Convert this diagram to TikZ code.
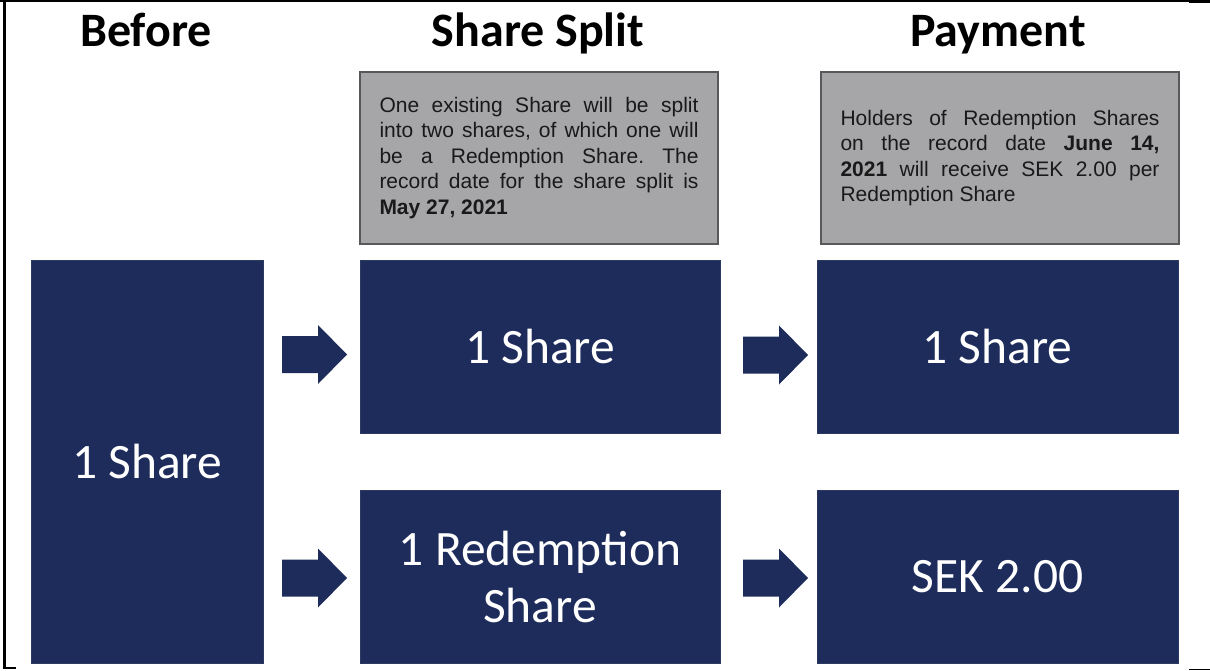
\documentclass[tikz,border=0pt]{standalone}
\usepackage{fontspec}
\setmainfont{Carlito}
\newfontfamily\arialf{Liberation Sans}
\definecolor{navy}{RGB}{29,44,91}
\definecolor{boxgray}{RGB}{166,166,169}
\definecolor{edgegray}{RGB}{88,88,90}
\frenchspacing
\begin{document}
\begin{tikzpicture}[x=1pt,y=-1pt,
  title/.style={anchor=base,inner sep=0pt,font=\fontsize{48}{56}\selectfont\bfseries},
  navybox/.style={fill=navy,draw=navy!85!gray,line width=0.8pt,text=white,align=center,inner sep=0pt,
    font=\fontsize{49.5}{57}\selectfont},
  notebox/.style={fill=boxgray,draw=edgegray,line width=2pt,minimum width=358pt,minimum height=172pt,
    inner xsep=0pt,text width=319pt,align=justify,text=black!90,
    font=\arialf\fontsize{21}{25.5}\selectfont\frenchspacing},
  barrow/.pic={\fill[navy] (0,-18.5) -- (36,-18.5) -- (36,-29.5) -- (65,0) -- (36,29.5) -- (36,18.5) -- (0,18.5) -- cycle;},
  frame/.style={draw=black,line cap=butt}
]
\useasboundingbox (0,0) rectangle (1210,671);
\fill[white] (0,0) rectangle (1210,671);
% frame
\draw[frame,line width=3pt] (4.5,0) -- (4.5,668);
\draw[frame,line width=1.5pt] (0,0.8) -- (1189,0.8);
\draw[frame,line width=3pt] (1189,1.5) -- (1210,1.5);
\draw[frame,line width=2pt] (3,668) -- (16,668);
\draw[frame,line width=1.5pt] (1189,669.5) -- (1210,669.5);
% titles
\node[title] (tbefore) at (146,47) {Before};
\node[title] (tsplit) at (538,47) {Share Split};
\node[title] (tpay) at (998,47) {Payment};
% notes
\node[notebox] (note1) at (539,158) {One existing Share will be split\linebreak into two shares, of which one will\linebreak be a Redemption Share. The\linebreak record date for the share split is\linebreak \textbf{May 27, 2021}};
\node[notebox] (note2) at (1000,158) {Holders of Redemption Shares\linebreak on the record date \textbf{June 14,}\linebreak \textbf{2021} will receive SEK 2.00 per\linebreak Redemption Share};
% navy boxes
\node[navybox,minimum width=232pt,minimum height=403pt] (before) at (147,461.5) {1 Share};
\node[navybox,minimum width=360pt,minimum height=173pt] (split1) at (540,346.5) {1 Share};
\node[navybox,minimum width=360pt,minimum height=173pt] (split2) at (540,576.5) {1 Redemption\\Share};
\node[navybox,minimum width=361pt,minimum height=173pt] (pay1) at (997.5,346.5) {1 Share};
\node[navybox,minimum width=361pt,minimum height=173pt] (pay2) at (997.5,576.5) {SEK 2.00};
% block arrows
\pic at (282,354.5) {barrow};
\pic at (282,578) {barrow};
\pic at (743,355) {barrow};
\pic at (743,578) {barrow};
\end{tikzpicture}
\end{document}
